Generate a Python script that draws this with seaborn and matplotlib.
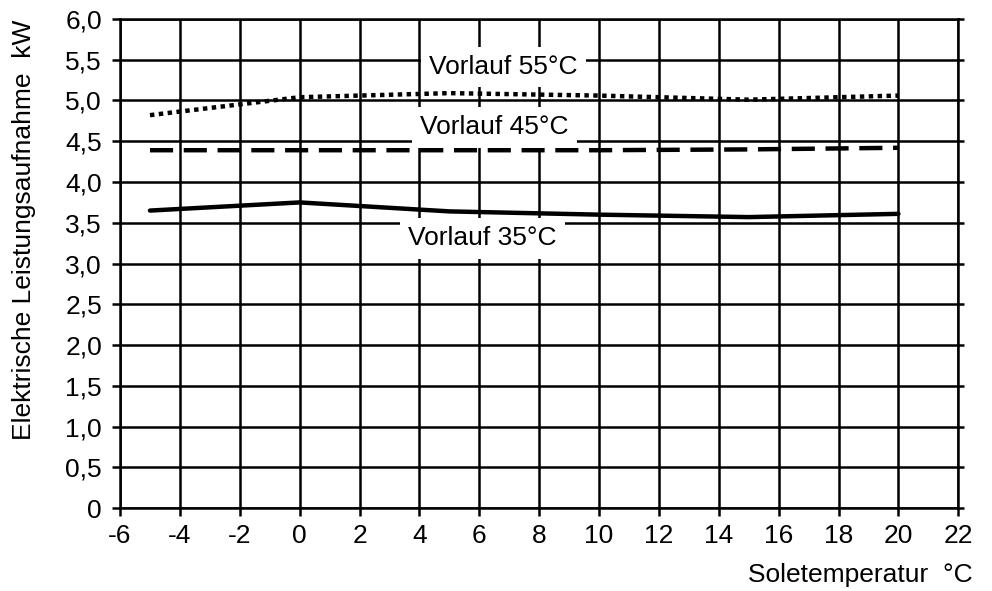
import pandas as pd
import matplotlib
matplotlib.use("Agg")
import matplotlib.pyplot as plt
import seaborn as sns
from matplotlib.ticker import FuncFormatter

# Soletemperatur in °C
sole_temp = [-5, 0, 5, 10, 15, 20]
# Elektrische Leistungsaufnahme in kW
vorlauf_35 = [3.65, 3.75, 3.64, 3.60, 3.57, 3.61]
vorlauf_45 = [4.39, 4.39, 4.39, 4.39, 4.40, 4.42]
vorlauf_55 = [4.82, 5.04, 5.09, 5.06, 5.01, 5.06]
labels = ["Vorlauf 35°C", "Vorlauf 45°C", "Vorlauf 55°C"]

sns.set_style("white")
plt.rcParams["font.family"] = ["Liberation Sans", "DejaVu Sans"]
plt.rcParams["axes.unicode_minus"] = False
plt.rcParams["text.color"] = "black"
plt.rcParams["xtick.color"] = "black"
plt.rcParams["ytick.color"] = "black"
plt.rcParams["axes.labelcolor"] = "black"

fig = plt.figure(figsize=(9.92, 5.91), dpi=100)
ax = fig.add_axes([0.121, 0.140, 0.845, 0.828])

styles = [
    dict(linestyle="-"),
    dict(linestyle=(0, (5.2, 2.4))),
    dict(linestyle=(0, (1, 1))),
]
series = [vorlauf_35, vorlauf_45, vorlauf_55]
for values, style in zip(series, styles):
    df = pd.DataFrame({"x": sole_temp, "y": values})
    sns.lineplot(data=df, x="x", y="y", ax=ax, color="black", lw=3.2, **style)

# curve labels with white box
label_pos = [(6.1, 3.31), (6.5, 4.67), (6.8, 5.41)]
for text, (lx, ly) in zip(labels, label_pos):
    ax.text(lx, ly, text, fontsize=19, ha="center", va="center", zorder=5,
            bbox=dict(facecolor="white", edgecolor="none", pad=6))

ax.set_xlim(-6, 22)
ax.set_ylim(0, 6)
ax.set_xticks(range(-6, 23, 2))
ax.set_yticks([i * 0.5 for i in range(13)])
ax.yaxis.set_major_formatter(
    FuncFormatter(lambda v, p: "0" if v == 0 else f"{v:.1f}".replace(".", ",")))

ax.grid(True, color="black", lw=1.8)
ax.set_axisbelow(True)
for s in ax.spines.values():
    s.set_visible(True)
    s.set_color("black")
    s.set_linewidth(1.8)
ax.tick_params(axis="both", direction="out", length=6, width=1.8, color="black",
               labelsize=19, left=True, bottom=True)
ax.tick_params(axis="x", pad=5)
ax.tick_params(axis="y", pad=7)
ax.yaxis.set_tick_params(which="major", right=True)
for t in ax.yaxis.get_major_ticks():
    t.tick2line.set_markersize(4)

ax.set_xlabel("")
ax.set_ylabel("Elektrische Leistungsaufnahme  kW", fontsize=19)
ax.yaxis.set_label_coords(-0.100, 0.569)
fig.text(0.980, 0.015, "Soletemperatur  °C", fontsize=19, ha="right", va="baseline")

fig.savefig("out.png", dpi=100)
